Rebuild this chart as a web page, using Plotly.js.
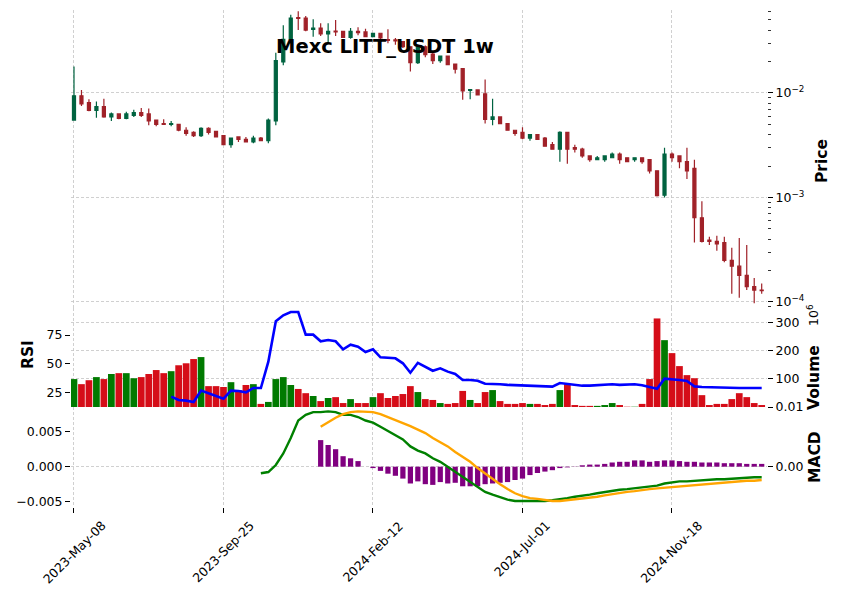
<!DOCTYPE html>
<html><head><meta charset="utf-8">
<script src="https://cdn.plot.ly/plotly-3.0.1.min.js"></script>
<style>html,body{margin:0;padding:0;background:#fff;}#chart{width:841px;height:600px;}</style>
</head><body><div id="chart"></div>
<script>
// Weekly candles, index 0 = 2023-05-08
const tickPos = [0, 20, 40, 60, 80];
const tickLabels = ['2023-May-08', '2023-Sep-25', '2024-Feb-12', '2024-Jul-01', '2024-Nov-18'];

const opens = [0.0055,0.0094,0.0081,0.0068,0.0074,0.0059,0.0063,0.0057,0.0061,0.0065,
0.0063,0.0055,0.0051,0.0050,0.0050,0.0044,0.0042,0.0039,0.0046,0.0043,
0.0039,0.0032,0.0038,0.0036,0.0034,0.0037,0.0035,0.0054,0.0198,0.0327,
0.0528,0.0522,0.0407,0.0419,0.0367,0.0392,0.0389,0.0341,0.0389,0.0384,
0.0346,0.0373,0.0325,0.0322,0.0310,0.0277,0.0195,0.0277,0.0236,0.0204,
0.0226,0.0189,0.0171,0.0106,0.0107,0.0098,0.0056,0.0059,0.0051,0.0044,
0.0042,0.0037,0.0040,0.0037,0.0032,0.0029,0.0042,0.0030,0.0029,0.0025,
0.0023,0.0023,0.0024,0.0026,0.0024,0.0023,0.0024,0.0023,0.0018,0.00105,
0.0026,0.0025,0.0022,0.0019,0.00064,0.00039,0.00038,0.00037,0.00025,0.00022,
0.00018,0.00014,0.00013];
const highs = [0.0179,0.0107,0.0087,0.0083,0.0088,0.0065,0.0064,0.0066,0.0069,0.0072,
0.0071,0.0055,0.0056,0.0054,0.0050,0.0047,0.0043,0.0047,0.0047,0.0043,
0.0039,0.0037,0.0038,0.0038,0.0039,0.0038,0.0057,0.0243,0.0445,0.0561,
0.0605,0.0546,0.0507,0.0465,0.0465,0.0500,0.0390,0.0419,0.0425,0.0412,
0.0375,0.0373,0.0407,0.0336,0.0312,0.0280,0.0290,0.0285,0.0242,0.0228,
0.0228,0.0190,0.0172,0.0109,0.0108,0.0135,0.0088,0.0060,0.0051,0.0044,
0.0047,0.0040,0.0040,0.0038,0.0034,0.0043,0.0042,0.0032,0.0030,0.0025,
0.0025,0.0025,0.0027,0.0027,0.0024,0.0024,0.0024,0.0023,0.0018,0.0030,
0.0027,0.0025,0.0030,0.0023,0.00092,0.00042,0.00043,0.00042,0.00033,0.00041,
0.00035,0.00017,0.00015];
const lows = [0.0055,0.0075,0.0067,0.0058,0.0058,0.0054,0.0056,0.0056,0.0059,0.0059,
0.0049,0.0048,0.0050,0.0048,0.0043,0.0039,0.0038,0.0038,0.0040,0.0038,
0.0032,0.0030,0.0034,0.0034,0.0033,0.0035,0.0033,0.0049,0.0184,0.0320,
0.0400,0.0389,0.0346,0.0351,0.0303,0.0351,0.0340,0.0331,0.0357,0.0344,
0.0344,0.0247,0.0299,0.0290,0.0270,0.0161,0.0189,0.0220,0.0189,0.0195,
0.0186,0.0154,0.0086,0.0087,0.0096,0.0051,0.0049,0.0051,0.0044,0.0039,
0.0036,0.0035,0.0036,0.0031,0.0029,0.0022,0.0021,0.0027,0.0024,0.0022,
0.0023,0.0022,0.0024,0.0021,0.0022,0.0022,0.0021,0.0017,0.00102,0.00100,
0.0022,0.0019,0.0015,0.00037,0.00037,0.00035,0.00031,0.00024,0.00012,0.00011,
0.00013,0.000097,0.00012];
const closes = [0.0094,0.00785,0.0068,0.0074,0.0059,0.0063,0.0057,0.0063,0.0065,0.0061,
0.0054,0.0050,0.0050,0.0051,0.0044,0.0041,0.0039,0.0046,0.0042,0.0038,
0.0032,0.0037,0.0036,0.0034,0.0037,0.0035,0.0055,0.0204,0.0327,0.0522,
0.0517,0.0400,0.0419,0.0367,0.0389,0.0384,0.0341,0.0389,0.0378,0.0346,
0.0373,0.0336,0.0318,0.0316,0.0277,0.0195,0.0277,0.0233,0.0204,0.0226,
0.0187,0.0169,0.0105,0.0108,0.0096,0.0056,0.0059,0.0051,0.0044,0.0041,
0.0037,0.0040,0.0036,0.0031,0.0029,0.0042,0.0029,0.0029,0.0025,0.0023,
0.0024,0.0025,0.0026,0.0023,0.0022,0.0024,0.0022,0.0018,0.00104,0.0026,
0.0024,0.0022,0.0018,0.00064,0.00038,0.00038,0.00036,0.00025,0.00022,0.00018,
0.00014,0.00013,0.000128];
// volume in units of 10^6
const volumes = [99,81,95,106,99,117,120,120,102,106,
117,131,120,127,148,155,170,177,74,74,
71,88,60,78,81,11,18,99,106,78,
64,49,39,21,32,35,14,28,14,14,
35,49,32,39,46,74,53,28,25,14,
11,14,57,25,14,53,60,21,11,11,
14,11,11,7,11,60,81,7,4,4,
4,7,14,7,1,1,11,99,314,237,
191,145,113,102,42,7,11,11,28,49,
35,14,7];
const rsi = [null,null,null,null,null,null,null,null,null,null,
null,null,null,21.8,19.0,18.4,17.2,27.0,24.7,22.4,
20.1,27.0,26.7,25.6,29.3,29.3,52.0,86.8,92.0,94.8,
94.8,75.3,75.3,69.6,70.7,69.6,62.7,66.6,64.9,60.3,
62.7,55.8,55.6,54.9,50.6,42.5,51.0,47.7,44.2,46.3,
43.4,41.4,36.2,36.2,35.6,33.0,33.0,32.5,32.0,31.8,
31.0,31.0,30.7,30.5,30.5,33.6,32.8,31.6,31.3,31.3,
31.6,31.6,32.5,32.0,32.2,32.5,31.6,29.9,28.7,37.3,
37.0,36.2,35.3,30.7,30.2,29.9,29.9,29.6,29.6,29.3,
29.3,29.3,29.3];
const macd = [null,null,null,null,null,null,null,null,null,null,
null,null,null,null,null,null,null,null,null,null,
null,null,null,null,null,-0.00094,-0.00076,0.00024,0.0019,0.0041,
0.0066,0.0074,0.0078,0.0078,0.0079,0.0078,0.0074,0.0074,0.0071,0.0066,
0.0063,0.0057,0.0051,0.0045,0.0039,0.0029,0.0023,0.0019,0.0012,0.0007,
0.0000,-0.0007,-0.0014,-0.0021,-0.0029,-0.0036,-0.0040,-0.0044,-0.0047,-0.0049,
-0.0049,-0.0050,-0.0050,-0.0049,-0.0048,-0.0047,-0.0045,-0.0043,-0.0042,-0.0040,
-0.0038,-0.0036,-0.0035,-0.0033,-0.0032,-0.0031,-0.0030,-0.0028,-0.0027,-0.0024,
-0.0022,-0.0021,-0.0021,-0.0020,-0.0019,-0.0019,-0.0018,-0.0018,-0.0017,-0.0017,
-0.0016,-0.0015,-0.0015];
const signal = [null,null,null,null,null,null,null,null,null,null,
null,null,null,null,null,null,null,null,null,null,
null,null,null,null,null,null,null,null,null,null,
null,null,null,0.0057,0.0064,0.0070,0.0075,0.0078,0.0079,0.0079,
0.0078,0.0075,0.0071,0.0067,0.0063,0.0058,0.0053,0.0048,0.0041,0.0035,
0.0029,0.0021,0.0014,0.0007,-0.0002,-0.0010,-0.0018,-0.0025,-0.0032,-0.0038,
-0.0042,-0.0045,-0.0046,-0.0048,-0.0049,-0.0049,-0.0048,-0.0047,-0.0046,-0.0045,
-0.0043,-0.0041,-0.0039,-0.0038,-0.0036,-0.0035,-0.0033,-0.0032,-0.0031,-0.0030,
-0.0029,-0.0028,-0.0027,-0.0026,-0.0025,-0.0024,-0.0023,-0.0022,-0.0022,-0.0021,
-0.0020,-0.0020,-0.0019];
const hist = [null,null,null,null,null,null,null,null,null,null,
null,null,null,null,null,null,null,null,null,null,
null,null,null,null,null,null,null,null,null,null,
null,null,null,0.0038,0.0031,0.0025,0.0015,0.0012,0.0008,null,
-0.0002,-0.0006,-0.0010,-0.0013,-0.0017,-0.0024,-0.0021,-0.0025,-0.0026,-0.0022,
-0.0024,-0.0023,-0.0028,-0.0028,-0.0028,-0.0025,-0.0024,-0.0023,-0.0022,-0.0019,
-0.0017,-0.0012,-0.0009,-0.0007,-0.0005,-0.0002,-0.0001,0.00003,0.0002,0.0003,
0.0003,0.0004,0.0006,0.0007,0.0007,0.0009,0.0009,0.0007,0.0008,0.0009,
0.0009,0.0008,0.0007,0.0007,0.0006,0.0006,0.0006,0.0005,0.0005,0.0005,
0.0004,0.0004,0.0004];

const idx = opens.map((_, i) => i);
const UP = '#006340', DOWN = '#A02128';
const VUP = '#007a00', VDOWN = '#d50d18';
const volColors = idx.map(i => closes[i] >= opens[i] ? VUP : VDOWN);

// pixel helpers for layout placement
const PL = 71, PR = 767, PT = 10, PB = 507;
const py = p => (PB - p) / (PB - PT);
const pxp = p => (p - PL) / (PR - PL);

const FONT = {family: 'DejaVu Sans', size: 12.5, color: '#000'};
const GRID = {showgrid: true, gridcolor: '#c4c4c4', gridwidth: 0.8, griddash: '3px,2px'};
const TK = {ticks: 'outside', ticklen: 5, tickwidth: 1, tickcolor: '#000', showline: false, zeroline: false, tickfont: FONT, fixedrange: true};

const minorVals = [];
for (let e = -5; e <= -2; e++) for (let m = 2; m <= 9; m++) minorVals.push(m * Math.pow(10, e));

const traces = [
  {type: 'candlestick', x: idx, open: opens, high: highs, low: lows, close: closes,
   xaxis: 'x', yaxis: 'y', whiskerwidth: 0,
   increasing: {line: {color: UP, width: 1.2}, fillcolor: UP},
   decreasing: {line: {color: DOWN, width: 1.2}, fillcolor: DOWN},
   hoverinfo: 'skip', showlegend: false},
  {type: 'bar', x: idx, y: volumes, xaxis: 'x', yaxis: 'y3', width: 0.9,
   marker: {color: volColors, line: {width: 0}}, hoverinfo: 'skip', showlegend: false},
  {type: 'scatter', mode: 'lines', x: idx, y: rsi, xaxis: 'x', yaxis: 'y4',
   line: {color: '#0000ff', width: 2.6}, hoverinfo: 'skip', showlegend: false},
  {type: 'bar', x: idx, y: hist, xaxis: 'x', yaxis: 'y5', width: 0.7,
   marker: {color: '#800080', line: {width: 0}}, hoverinfo: 'skip', showlegend: false},
  {type: 'scatter', mode: 'lines', x: idx, y: macd, xaxis: 'x', yaxis: 'y6',
   line: {color: '#008000', width: 2.4}, hoverinfo: 'skip', showlegend: false},
  {type: 'scatter', mode: 'lines', x: idx, y: signal, xaxis: 'x', yaxis: 'y6',
   line: {color: '#ffa500', width: 2.4}, hoverinfo: 'skip', showlegend: false}
];

const priceRange = [-4.0577, -1.2057];
const macdRange = [-0.00576, 0.00853];

const annotations = [];
tickPos.forEach((p, k) => annotations.push({
  x: p, xref: 'x', y: py(515), yref: 'paper', text: tickLabels[k], textangle: -45,
  xanchor: 'center', yanchor: 'top', showarrow: false, font: FONT
}));
const lab = (text, x, y, size, bold) => ({
  text: bold ? '<b>' + text + '</b>' : text, x: pxp(x), y: py(y), xref: 'paper', yref: 'paper',
  textangle: -90, showarrow: false, xanchor: 'center', yanchor: 'middle',
  font: {family: 'DejaVu Sans', size: size, color: '#000'}
});
annotations.push(lab('Price', 822, 161, 15.5, true));
annotations.push(lab('Volume', 814, 378, 15.5, true));
annotations.push(lab('10<sup>6</sup>', 813, 315, 12.5, false));
annotations.push(lab('MACD', 815, 457, 15.5, true));
annotations.push(lab('RSI', 28, 355, 15.5, true));
annotations.push({text: '<b>Mexc LITT_USDT 1w</b>', x: pxp(384.5), y: py(46), xref: 'paper', yref: 'paper',
  showarrow: false, xanchor: 'center', yanchor: 'middle',
  font: {family: 'DejaVu Sans', size: 19.5, color: '#000'}});

const layout = {
  width: 841, height: 600,
  margin: {l: PL, r: 841 - PR, t: PT, b: 600 - PB, pad: 0},
  paper_bgcolor: '#fff', plot_bgcolor: 'rgba(0,0,0,0)',
  showlegend: false, boxgap: 0.42, hovermode: false,
  xaxis: Object.assign({}, TK, GRID, {domain: [0, 1], range: [-0.4, 92.71], anchor: 'y5',
    tickmode: 'array', tickvals: tickPos, showticklabels: false, rangeslider: {visible: false}}),
  yaxis: Object.assign({}, TK, GRID, {domain: [py(308), 1], type: 'log', range: priceRange,
    side: 'right', anchor: 'x', tickmode: 'array', tickvals: [1e-4, 1e-3, 1e-2],
    ticktext: ['10<sup>−4</sup>', '10<sup>−3</sup>', '10<sup>−2</sup>'],
    minor: {tickmode: 'array', tickvals: minorVals, ticks: 'outside', ticklen: 2.5, tickwidth: 0.8,
      tickcolor: '#000', showgrid: false}}),
  yaxis3: Object.assign({}, TK, GRID, {domain: [py(407), py(308)], range: [0, 351], side: 'right', anchor: 'x',
    tickmode: 'array', tickvals: [0, 100, 200, 300], ticktext: ['0.01', '100', '200', '300']}),
  yaxis4: Object.assign({}, TK, {overlaying: 'y3', range: [12.9, 98.3], side: 'left', anchor: 'x',
    tickmode: 'array', tickvals: [25, 50, 75], showgrid: false}),
  yaxis5: Object.assign({}, TK, {domain: [0, py(407)], range: macdRange, side: 'left', anchor: 'x',
    tickmode: 'array', tickvals: [-0.005, 0, 0.005], ticktext: ['−0.005', '0.000', '0.005'], showgrid: false}),
  yaxis6: Object.assign({}, TK, GRID, {overlaying: 'y5', range: macdRange, side: 'right', anchor: 'x',
    tickmode: 'array', tickvals: [0], ticktext: ['0.00']}),
  annotations: annotations
};

Plotly.newPlot('chart', traces, layout, {staticPlot: true, displayModeBar: false});
</script>
</body></html>
